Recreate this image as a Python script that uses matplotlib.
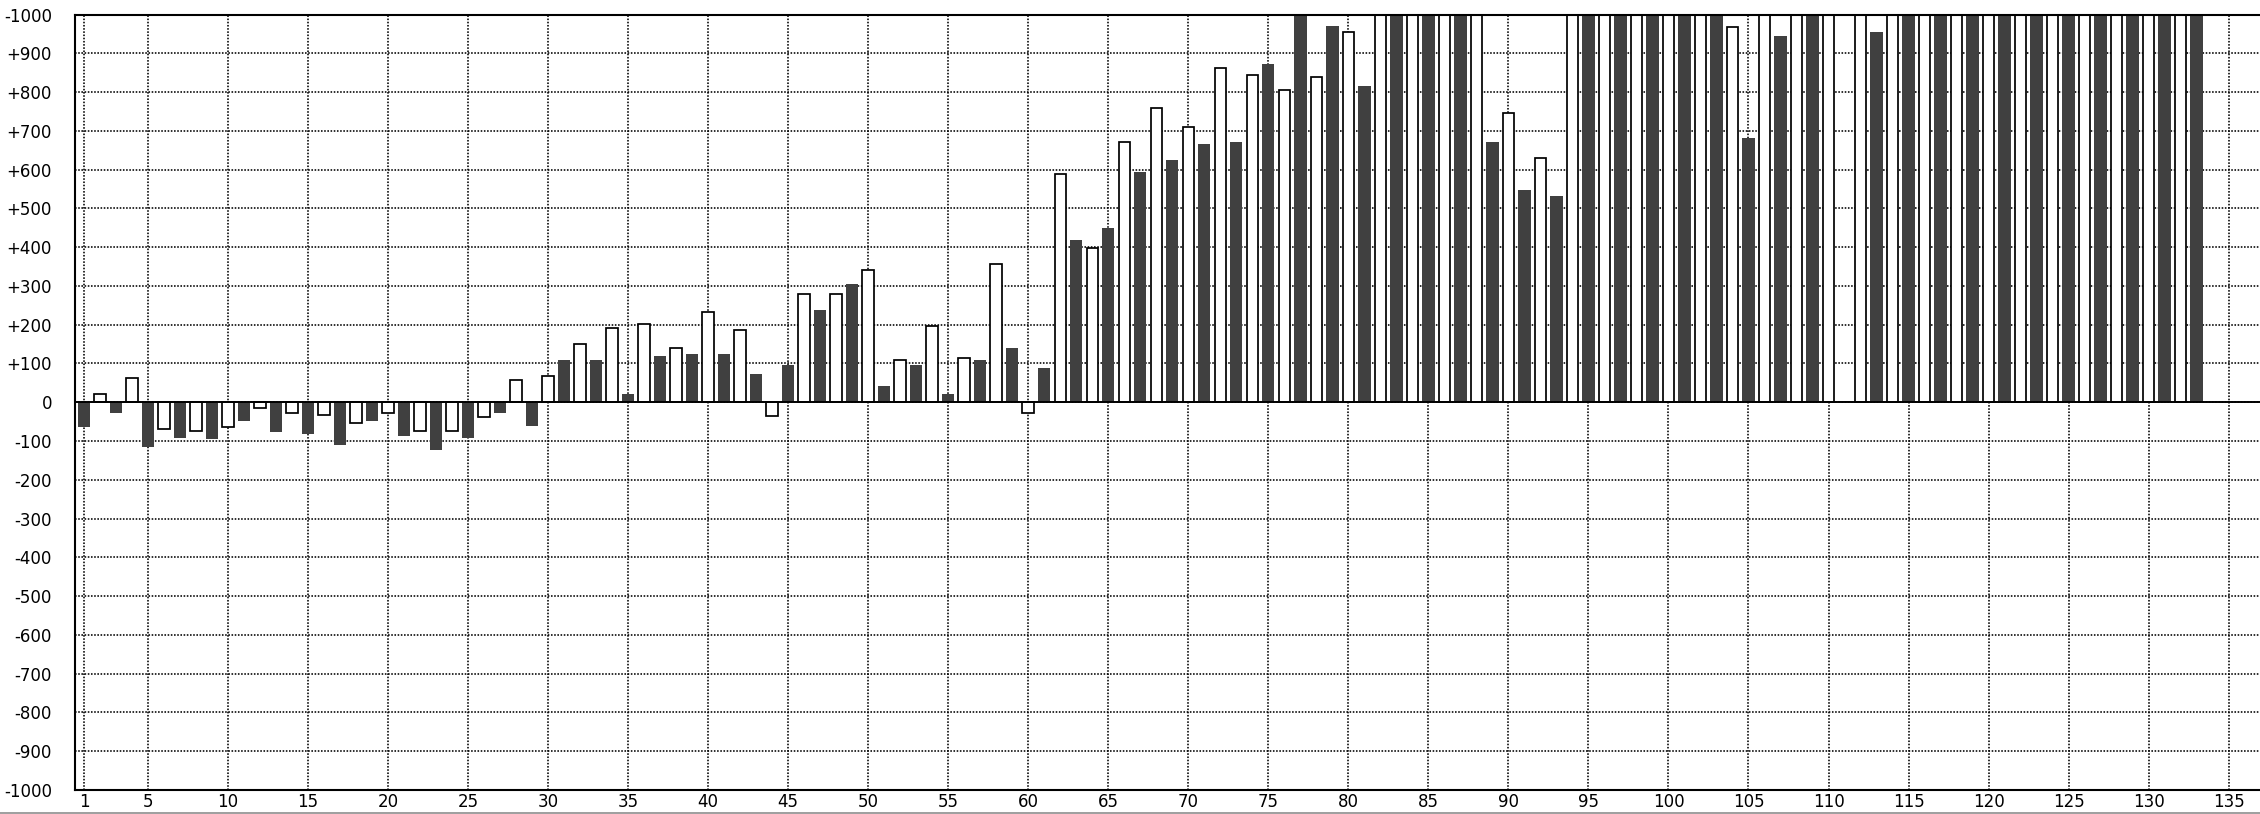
import matplotlib
matplotlib.use("Agg")
import matplotlib.pyplot as plt
from matplotlib.patches import Rectangle

# day index 1..133, odd days drawn dark, even days drawn white
days = list(range(1, 134))
values = [
    -64, 21, -28, 63, -116, -69, -91, -74, -96, -63,
    -49, -16, -76, -27, -81, -32, -111, -53, -49, -28,
    -86, -73, -122, -73, -91, -38, -29, 57, -60, 67,
    110, 149, 110, 191, 22, 201, 120, 139, 125, 232,
    125, 186, 74, -35, 95, 279, 239, 278, 306, 340,
    43, 108, 95, 196, 22, 113, 110, 356, 141, -27,
    89, 588, 419, 397, 450, 670, 594, 758, 625, 711,
    667, 861, 672, 845, 873, 804, 1100, 840, 971, 954,
    816, 1100, 1100, 1100, 1100, 1100, 1100, 1100, 672, 747,
    548, 629, 533, 1100, 1100, 1100, 1100, 1100, 1100, 1100,
    1100, 1100, 1100, 969, 682, 1100, 945, 1100, 1100, 1100,
    3, 1100, 955, 1100, 1100, 1100, 1100, 1100, 1100, 1100,
    1100, 1100, 1100, 1100, 1100, 1100, 1100, 1100, 1100, 1100,
    1100, 1100, 1100,
]

xticks = [1] + list(range(5, 136, 5))
yticks = list(range(-1000, 1001, 100))
ytick_labels = ["-1000", "-900", "-800", "-700", "-600", "-500", "-400", "-300",
                "-200", "-100", "0", "+100", "+200", "+300", "+400", "+500",
                "+600", "+700", "+800", "+900", "-1000"]

W, H = 2260, 814
fig = plt.figure(figsize=(W / 100, H / 100), dpi=100)
fig.patch.set_facecolor("white")
ax = fig.add_axes([75 / W, 24 / H, (W - 75) / W, 775.5 / H])

dark_x = [d for d in days if d % 2 == 1]
dark_v = [v for d, v in zip(days, values) if d % 2 == 1]
white_x = [d for d in days if d % 2 == 0]
white_v = [v for d, v in zip(days, values) if d % 2 == 0]

ax.bar(dark_x, dark_v, width=0.77, color="#404040", linewidth=0, zorder=2)
ax.bar(white_x, white_v, width=0.72, color="white", edgecolor="black",
       linewidth=1.25, zorder=2)
ax.axhline(0, color="black", linewidth=1.4, zorder=3)

ax.set_xlim(0.44, 136.96)
ax.set_ylim(-1000, 1000)
ax.set_xticks(xticks)
ax.set_xticklabels([str(t) for t in xticks])
ax.set_yticks(yticks)
ax.set_yticklabels(ytick_labels)
ax.tick_params(axis="both", length=0, labelsize=12, colors="black")
ax.tick_params(axis="y", pad=16.5)
ax.tick_params(axis="x", pad=2)

ax.grid(True, color="black", linestyle=(0, (1, 1)), linewidth=1.15, zorder=1)
ax.set_axisbelow(True)

for side in ["left", "bottom", "top"]:
    ax.spines[side].set_linewidth(1.5)
    ax.spines[side].set_color("black")
ax.spines["right"].set_visible(False)

# grey strip along the bottom border
fig.patches.append(Rectangle((0, 0), 1, 2.5 / H, transform=fig.transFigure,
                             facecolor="#a0a0a0", edgecolor="none", zorder=10))

fig.savefig("out.png", dpi=100, facecolor="white")
